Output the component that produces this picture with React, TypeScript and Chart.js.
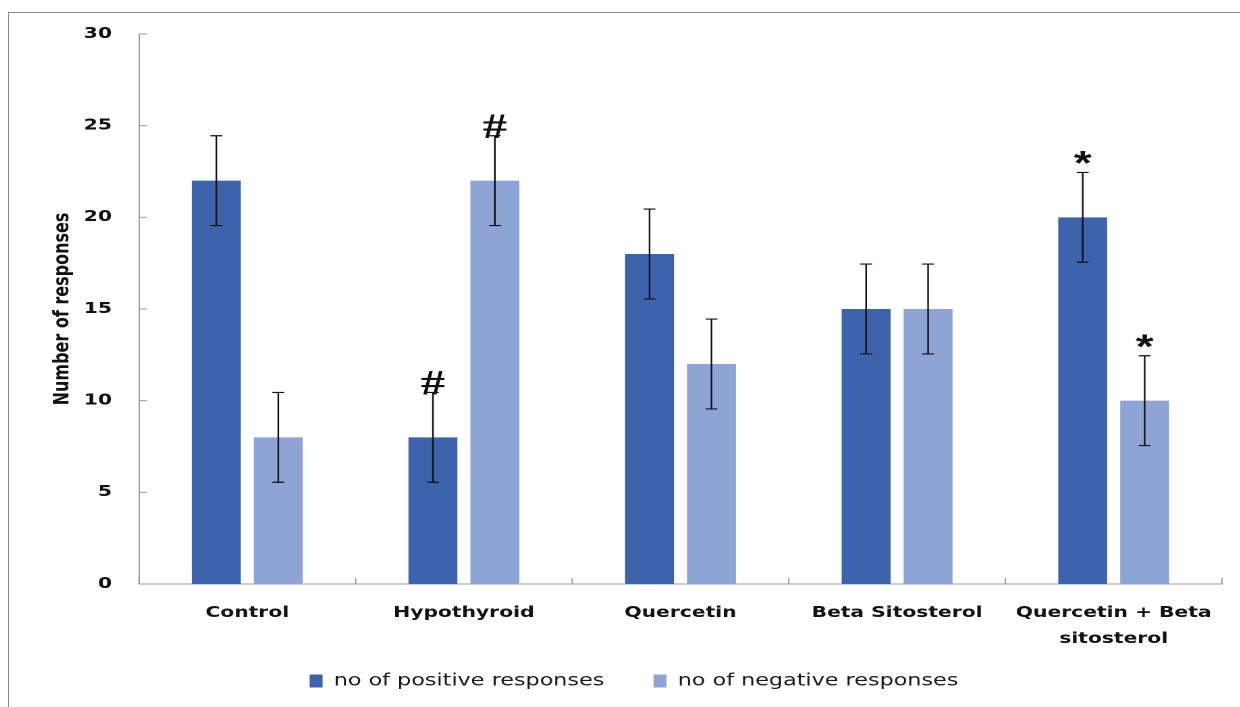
import { useEffect, useRef } from 'react';
import { Chart, registerables } from 'chart.js';

Chart.register(...registerables);

// Groups along the x axis (the last label wraps onto two lines)
const categories: (string | string[])[] = [
  'Control',
  'Hypothyroid',
  'Quercetin',
  'Beta Sitosterol',
  ['Quercetin + Beta', 'sitosterol'],
];

// Mean counts per group
const positiveResponses = [22, 8, 18, 15, 20];
const negativeResponses = [8, 22, 12, 15, 10];

// Error bar half-lengths
const positiveErrors = [2.45, 2.45, 2.45, 2.45, 2.45];
const negativeErrors = [2.45, 2.45, 2.45, 2.45, 2.45];

// Significance marks drawn above the error bars
const positiveMarks = ['', '#', '', '', '*'];
const negativeMarks = ['', '#', '', '', '*'];

// Value axis
const yMin = 0;
const yMax = 30;
const yStep = 5;

const DARK = '#3c63ab';
const LIGHT = '#8ea4d4';
const AXIS = '#9a9a9a';
const FONT = 'DejaVu Sans';

// Horizontal stretch applied to the whole drawing surface
const STRETCH = 1.35;
const INNER_W = 912;
const INNER_H = 694;

const innerTicks = {
  id: 'innerTicks',
  beforeDatasetsDraw(chart: any) {
    const { ctx, chartArea, scales } = chart;
    const x = scales.x;
    const y = scales.y;
    ctx.save();
    ctx.strokeStyle = AXIS;
    ctx.lineWidth = 1;
    ctx.beginPath();
    y.ticks.forEach((_t: any, i: number) => {
      const py = y.getPixelForTick(i);
      ctx.moveTo(chartArea.left, py);
      ctx.lineTo(chartArea.left + 5.9, py);
    });
    for (let i = 0; i <= categories.length; i++) {
      const px = x.getPixelForValue(i - 0.5);
      ctx.moveTo(px, chartArea.bottom);
      ctx.lineTo(px, chartArea.bottom - 6);
    }
    ctx.stroke();
    ctx.restore();
  },
};

const errorBars = {
  id: 'errorBars',
  afterDatasetsDraw(chart: any) {
    const { ctx, scales } = chart;
    const y = scales.y;
    const cap = 4.4;
    chart.data.datasets.forEach((ds: any, di: number) => {
      const meta = chart.getDatasetMeta(di);
      meta.data.forEach((bar: any, i: number) => {
        const v = ds.data[i];
        const e = ds.errors[i];
        const top = y.getPixelForValue(v + e);
        const bot = y.getPixelForValue(v - e);
        ctx.save();
        ctx.strokeStyle = '#111';
        ctx.lineWidth = 1.2;
        ctx.beginPath();
        ctx.moveTo(bar.x, top);
        ctx.lineTo(bar.x, bot);
        ctx.moveTo(bar.x - cap, top);
        ctx.lineTo(bar.x + cap, top);
        ctx.moveTo(bar.x - cap, bot);
        ctx.lineTo(bar.x + cap, bot);
        ctx.stroke();
        const mark = ds.marks[i];
        if (mark) {
          ctx.fillStyle = '#111';
          ctx.textAlign = 'center';
          ctx.textBaseline = 'alphabetic';
          ctx.font = mark === '#' ? 'bold 36px "Liberation Serif"' : 'bold 34px "Liberation Sans"';
          ctx.fillText(mark, bar.x, top + 2);
        }
        ctx.restore();
      });
    });
  },
};

export default function App() {
  const canvasRef = useRef<HTMLCanvasElement | null>(null);

  useEffect(() => {
    if (!canvasRef.current) return;
    const chart = new Chart(canvasRef.current, {
      type: 'bar',
      data: {
        labels: categories,
        datasets: [
          {
            label: 'no of positive responses',
            data: positiveResponses,
            errors: positiveErrors,
            marks: positiveMarks,
            backgroundColor: DARK,
            borderWidth: 0,
            categoryPercentage: 0.572,
            barPercentage: 0.79,
          } as any,
          {
            label: 'no of negative responses',
            data: negativeResponses,
            errors: negativeErrors,
            marks: negativeMarks,
            backgroundColor: LIGHT,
            borderWidth: 0,
            categoryPercentage: 0.572,
            barPercentage: 0.79,
          } as any,
        ],
      },
      options: {
        animation: false,
        responsive: true,
        maintainAspectRatio: false,
        devicePixelRatio: 2,
        layout: { padding: { left: 27.4, right: 13.5, top: 21, bottom: 7.75 } },
        plugins: {
          legend: {
            position: 'bottom',
            labels: {
              font: { family: FONT, size: 16.5 },
              color: '#1a1a1a',
              boxWidth: 9.6,
              boxHeight: 13,
              padding: 20.75,
              generateLabels: (c: any) => {
                const items = Chart.defaults.plugins.legend.labels.generateLabels(c);
                // extra room after every entry but the last
                items.forEach((it: any, i: number) => {
                  if (i < items.length - 1) it.text = it.text + '   ';
                });
                return items;
              },
            },
          },
          tooltip: { enabled: false },
        },
        scales: {
          x: {
            // tick marks are hidden; tickLength only spaces the labels
            grid: { display: false, drawTicks: true, tickLength: 16 },
            border: { display: true, color: AXIS, width: 1 },
            ticks: {
              font: { family: FONT, size: 15, weight: 'bold', lineHeight: '26px' },
              color: '#111',
              padding: 0,
              maxRotation: 0,
              autoSkip: false,
            },
            afterFit: (s: any) => {
              s.height = 68;
            },
          },
          y: {
            min: yMin,
            max: yMax,
            grid: { display: false, drawTicks: true, tickLength: 20 },
            border: { display: true, color: AXIS, width: 1 },
            ticks: {
              stepSize: yStep,
              font: { family: FONT, size: 15, weight: 'bold' },
              color: '#111',
              padding: 0,
            },
            title: {
              display: true,
              text: 'Number of responses',
              font: { family: FONT, size: 16, weight: 'bold' },
              color: '#111',
              padding: { top: 3, bottom: 0 },
            },
            afterFit: (s: any) => {
              s.width = 68.9;
            },
          },
        },
      } as any,
      plugins: [innerTicks, errorBars],
    });
    return () => chart.destroy();
  }, []);

  return (
    <div
      style={{
        position: 'absolute',
        left: 8,
        top: 12,
        width: 1232,
        height: 695,
        borderLeft: '1px solid #8a8a8a',
        borderTop: '1px solid #8a8a8a',
        boxSizing: 'border-box',
        overflow: 'hidden',
        background: '#fff',
      }}
    >
      <div
        style={{
          position: 'relative',
          width: INNER_W,
          height: INNER_H,
          transform: `scaleX(${STRETCH})`,
          transformOrigin: '0 0',
        }}
      >
        <canvas ref={canvasRef} />
      </div>
    </div>
  );
}
